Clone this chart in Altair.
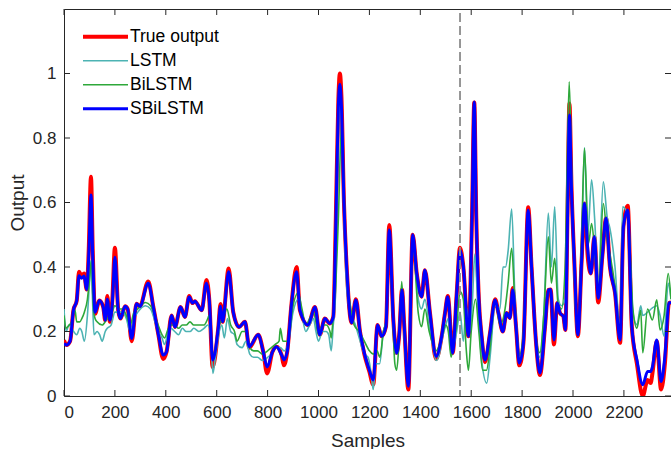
import altair as alt
import pandas as pd

# ---------------- data ----------------
true_x = [0, 10, 24, 37, 50, 59, 69, 79, 89, 97, 106, 113, 122, 139, 154, 162, 170, 180, 190, 200,
          213, 222, 240, 250, 266, 285, 298, 331, 351, 370, 390, 403, 423, 436, 458, 475, 492, 505,
          514, 541, 560, 571, 584, 606, 615, 623, 647, 665, 688, 711, 728, 763, 783, 798, 819, 835,
          855, 864, 877, 894, 914, 927, 959, 986, 1005, 1025, 1044, 1058, 1068, 1078, 1084, 1090,
          1100, 1112, 1130, 1147, 1163, 1180, 1200, 1215, 1232, 1248, 1265, 1278, 1294, 1307, 1317,
          1328, 1337, 1353, 1370, 1386, 1405, 1418, 1438, 1462, 1484, 1497, 1508, 1527, 1543, 1556,
          1569, 1589, 1603, 1612, 1620, 1630, 1641, 1654, 1674, 1694, 1707, 1724, 1739, 1752, 1763,
          1776, 1789, 1805, 1824, 1837, 1855, 1870, 1890, 1903, 1912, 1925, 1938, 1949, 1962, 1970,
          1978, 1986, 1994, 2005, 2019, 2034, 2045, 2058, 2070, 2084, 2099, 2115, 2130, 2145, 2165,
          2185, 2198, 2215, 2231, 2251, 2274, 2293, 2305, 2312, 2329, 2346, 2361, 2377, 2385]
true_y = [0.173, 0.158, 0.17, 0.266, 0.296, 0.385, 0.373, 0.38, 0.33, 0.45, 0.68, 0.45, 0.255,
          0.296, 0.276, 0.235, 0.31, 0.23, 0.3, 0.46, 0.266, 0.24, 0.278, 0.27, 0.17, 0.286, 0.278,
          0.355, 0.276, 0.194, 0.115, 0.137, 0.25, 0.214, 0.276, 0.245, 0.31, 0.288, 0.294, 0.266,
          0.36, 0.296, 0.09, 0.21, 0.285, 0.23, 0.395, 0.26, 0.214, 0.23, 0.15, 0.19, 0.137, 0.07,
          0.137, 0.153, 0.127, 0.095, 0.137, 0.286, 0.4, 0.266, 0.22, 0.276, 0.19, 0.24, 0.225,
          0.245, 0.55, 0.92, 1.0, 0.93, 0.6, 0.38, 0.227, 0.3, 0.2, 0.13, 0.075, 0.035, 0.22, 0.185,
          0.215, 0.53, 0.236, 0.133, 0.19, 0.33, 0.215, 0.02, 0.5, 0.38, 0.308, 0.39, 0.257, 0.115,
          0.185, 0.257, 0.31, 0.133, 0.318, 0.46, 0.401, 0.185, 0.55, 0.91, 0.55, 0.3, 0.185, 0.105,
          0.196, 0.3, 0.257, 0.2, 0.257, 0.242, 0.335, 0.215, 0.095, 0.163, 0.585, 0.401, 0.163,
          0.065, 0.215, 0.329, 0.33, 0.16, 0.288, 0.257, 0.247, 0.205, 0.55, 0.907, 0.65, 0.42,
          0.185, 0.422, 0.597, 0.43, 0.38, 0.494, 0.29, 0.432, 0.551, 0.401, 0.32, 0.165, 0.525,
          0.59, 0.215, 0.1, 0.0, 0.05, 0.04, 0.07, 0.17, 0.02, 0.1, 0.288, 0.29]

sbilstm_y = [0.163, 0.158, 0.17, 0.266, 0.296, 0.373, 0.365, 0.372, 0.33, 0.43, 0.623, 0.43, 0.26,
             0.296, 0.276, 0.235, 0.3, 0.235, 0.29, 0.43, 0.266, 0.24, 0.278, 0.27, 0.178, 0.286,
             0.278, 0.35, 0.276, 0.194, 0.127, 0.137, 0.25, 0.214, 0.276, 0.245, 0.307, 0.288, 0.294,
             0.266, 0.35, 0.296, 0.112, 0.21, 0.278, 0.23, 0.385, 0.26, 0.214, 0.23, 0.153, 0.19,
             0.137, 0.09, 0.137, 0.153, 0.127, 0.112, 0.137, 0.286, 0.385, 0.266, 0.22, 0.276, 0.19,
             0.24, 0.225, 0.245, 0.53, 0.9, 0.967, 0.9, 0.6, 0.38, 0.227, 0.298, 0.2, 0.134, 0.08,
             0.05, 0.22, 0.185, 0.215, 0.515, 0.236, 0.133, 0.19, 0.329, 0.215, 0.03, 0.5, 0.38,
             0.308, 0.39, 0.257, 0.123, 0.185, 0.257, 0.308, 0.133, 0.318, 0.453, 0.401, 0.185,
             0.55, 0.912, 0.55, 0.3, 0.185, 0.112, 0.196, 0.298, 0.257, 0.2, 0.257, 0.242, 0.329,
             0.215, 0.102, 0.163, 0.577, 0.401, 0.163, 0.071, 0.215, 0.329, 0.33, 0.174, 0.288,
             0.257, 0.247, 0.205, 0.53, 0.871, 0.64, 0.42, 0.19, 0.422, 0.597, 0.453, 0.38, 0.494,
             0.303, 0.432, 0.551, 0.401, 0.32, 0.174, 0.525, 0.577, 0.215, 0.112, 0.035, 0.076,
             0.076, 0.09, 0.174, 0.045, 0.123, 0.288, 0.29]

lstm_x = [0, 8, 20, 30, 50, 62, 70, 80, 92, 100, 106, 112, 118, 130, 140, 150, 162, 170, 185, 200,
          215, 230, 245, 260, 275, 290, 320, 340, 370, 385, 395, 410, 420, 435, 450, 465, 480, 495,
          510, 530, 550, 565, 575, 585, 595, 610, 620, 630, 642, 655, 670, 680, 700, 715, 730, 745,
          760, 780, 800, 815, 830, 850, 865, 880, 900, 920, 935, 950, 965, 980, 990, 1000, 1015,
          1030, 1040, 1050, 1058, 1066, 1075, 1084, 1092, 1102, 1115, 1130, 1145, 1160, 1180, 1195,
          1205, 1215, 1225, 1240, 1255, 1265, 1278, 1292, 1305, 1315, 1327, 1340, 1353, 1370, 1392,
          1405, 1418, 1435, 1450, 1462, 1475, 1484, 1500, 1510, 1521, 1530, 1543, 1556, 1569, 1580,
          1595, 1605, 1614, 1625, 1640, 1661, 1674, 1694, 1713, 1725, 1735, 1745, 1759, 1772, 1791,
          1805, 1824, 1840, 1855, 1870, 1885, 1903, 1915, 1928, 1942, 1955, 1969, 1985, 2000, 2019,
          2034, 2045, 2058, 2073, 2085, 2099, 2119, 2135, 2145, 2165, 2185, 2195, 2215, 2235, 2251,
          2266, 2274, 2293, 2312, 2329, 2342, 2358, 2374, 2385]
lstm_y = [0.27, 0.2, 0.22, 0.21, 0.19, 0.21, 0.2, 0.17, 0.25, 0.35, 0.42, 0.3, 0.19, 0.2, 0.19,
          0.17, 0.2, 0.21, 0.22, 0.26, 0.26, 0.26, 0.24, 0.2, 0.24, 0.26, 0.28, 0.27, 0.2, 0.18,
          0.16, 0.2, 0.21, 0.2, 0.19, 0.21, 0.2, 0.2, 0.21, 0.2, 0.21, 0.22, 0.2, 0.07, 0.12, 0.2,
          0.22, 0.18, 0.24, 0.2, 0.19, 0.16, 0.15, 0.17, 0.13, 0.12, 0.12, 0.11, 0.12, 0.13, 0.15,
          0.15, 0.14, 0.16, 0.26, 0.3, 0.25, 0.2, 0.22, 0.24, 0.2, 0.17, 0.2, 0.2, 0.19, 0.14, 0.22,
          0.3, 0.7, 0.92, 0.8, 0.5, 0.3, 0.25, 0.22, 0.18, 0.13, 0.12, 0.08, 0.02, 0.1, 0.1, 0.2,
          0.23, 0.5, 0.25, 0.13, 0.18, 0.32, 0.15, 0.03, 0.48, 0.3, 0.27, 0.3, 0.22, 0.15, 0.11,
          0.13, 0.17, 0.22, 0.24, 0.14, 0.15, 0.2, 0.26, 0.17, 0.28, 0.2, 0.3, 0.44, 0.3, 0.12,
          0.04, 0.12, 0.28, 0.27, 0.4, 0.4, 0.45, 0.58, 0.3, 0.12, 0.18, 0.55, 0.35, 0.17, 0.12,
          0.25, 0.567, 0.4, 0.587, 0.3, 0.28, 0.3, 0.87, 0.5, 0.19, 0.45, 0.77, 0.5, 0.67, 0.55,
          0.35, 0.664, 0.55, 0.52, 0.4, 0.2, 0.587, 0.56, 0.26, 0.22, 0.28, 0.25, 0.26, 0.273,
          0.28, 0.25, 0.185, 0.35, 0.3]

bilstm_x = [0, 8, 20, 30, 43, 50, 62, 70, 80, 92, 100, 108, 115, 122, 130, 150, 170, 185, 200,
            215, 230, 245, 260, 275, 290, 320, 340, 370, 385, 395, 410, 420, 435, 450, 465, 480,
            495, 510, 530, 550, 565, 570, 578, 585, 595, 610, 625, 640, 655, 670, 680, 700, 715,
            730, 745, 760, 780, 800, 815, 830, 845, 850, 860, 880, 900, 920, 935, 950, 965, 980,
            990, 1000, 1015, 1030, 1045, 1050, 1058, 1066, 1078, 1091, 1100, 1110, 1125, 1140, 1160,
            1180, 1200, 1215, 1230, 1241, 1255, 1265, 1278, 1290, 1300, 1307, 1315, 1327, 1340,
            1353, 1370, 1392, 1405, 1418, 1435, 1450, 1462, 1484, 1500, 1510, 1521, 1532, 1543,
            1556, 1569, 1580, 1589, 1600, 1617, 1630, 1645, 1660, 1674, 1694, 1713, 1733, 1745,
            1759, 1772, 1791, 1805, 1824, 1840, 1855, 1870, 1885, 1903, 1915, 1928, 1942, 1955,
            1969, 1985, 2000, 2019, 2034, 2045, 2061, 2073, 2085, 2099, 2119, 2135, 2145, 2165,
            2185, 2195, 2215, 2235, 2251, 2266, 2274, 2293, 2312, 2329, 2342, 2358, 2374, 2385]
bilstm_y = [0.25, 0.21, 0.22, 0.23, 0.267, 0.23, 0.23, 0.24, 0.26, 0.3, 0.36, 0.42, 0.28, 0.24,
            0.23, 0.22, 0.24, 0.25, 0.28, 0.27, 0.27, 0.25, 0.22, 0.26, 0.27, 0.29, 0.28, 0.22,
            0.19, 0.18, 0.21, 0.22, 0.22, 0.21, 0.22, 0.22, 0.23, 0.22, 0.22, 0.22, 0.24, 0.25,
            0.2, 0.12, 0.15, 0.22, 0.24, 0.27, 0.22, 0.2, 0.17, 0.2, 0.2, 0.15, 0.14, 0.14, 0.13,
            0.14, 0.15, 0.16, 0.17, 0.21, 0.17, 0.17, 0.28, 0.32, 0.27, 0.22, 0.24, 0.26, 0.23,
            0.19, 0.22, 0.22, 0.2, 0.18, 0.25, 0.32, 0.55, 0.85, 0.65, 0.4, 0.28, 0.22, 0.2, 0.17,
            0.14, 0.13, 0.14, 0.12, 0.2, 0.23, 0.5, 0.28, 0.1, 0.08, 0.15, 0.355, 0.15, 0.03, 0.48,
            0.257, 0.215, 0.27, 0.2, 0.16, 0.14, 0.18, 0.22, 0.2, 0.12, 0.17, 0.22, 0.324, 0.3,
            0.15, 0.08, 0.2, 0.3, 0.2, 0.08, 0.08, 0.15, 0.3, 0.22, 0.27, 0.35, 0.458, 0.28, 0.13,
            0.2, 0.57, 0.38, 0.18, 0.134, 0.25, 0.494, 0.35, 0.427, 0.28, 0.27, 0.4, 0.974, 0.5,
            0.19, 0.5, 0.768, 0.474, 0.535, 0.45, 0.31, 0.597, 0.48, 0.44, 0.34, 0.2, 0.5, 0.57,
            0.273, 0.21, 0.266, 0.134, 0.27, 0.236, 0.298, 0.205, 0.25, 0.38, 0.3]

series_names = ["True output", "LSTM", "BiLSTM", "SBiLSTM"]
series_colors = ["#FF0000", "#4DB3B3", "#2EA83A", "#0000FF"]
series_widths = [4.0, 1.6, 1.6, 3.0]

x_ticks = [0, 200, 400, 600, 800, 1000, 1200, 1400, 1600, 1800, 2000, 2200]
y_ticks = [0, 0.2, 0.4, 0.6, 0.8, 1.0]
split_x = [1556]

# ---------------- build ----------------
W, H = 607, 387
FONT = "Liberation Sans"
TXT = "#262626"

frames = []
for name, xs, ys in [("True output", true_x, true_y), ("LSTM", lstm_x, lstm_y),
                     ("BiLSTM", bilstm_x, bilstm_y), ("SBiLSTM", true_x, sbilstm_y)]:
    frames.append(pd.DataFrame({"x": xs, "y": ys, "series": name}))
df = pd.concat(frames, ignore_index=True)

xscale = alt.Scale(domain=[0, 2385], nice=False, zero=False)
yscale = alt.Scale(domain=[0, 1.2], nice=False)

legend = alt.Legend(title=None, orient="none", legendX=17, legendY=16,
                    symbolType="stroke", symbolSize=2025, clipHeight=23.5, rowPadding=0,
                    labelFont=FONT, labelFontSize=17.5, labelColor="#000000",
                    labelOffset=0, padding=0)

color = alt.Color("series:N", scale=alt.Scale(domain=series_names, range=series_colors),
                  legend=legend)
swidth = alt.StrokeWidth("series:N",
                         scale=alt.Scale(type="ordinal", domain=series_names, range=series_widths),
                         legend=legend)

xenc = alt.X("x:Q", scale=xscale,
             axis=alt.Axis(title="Samples", values=x_ticks, format="d", grid=False,
                           ticks=False, domain=False, labelPadding=8, titlePadding=11))
yenc = alt.Y("y:Q", scale=yscale,
             axis=alt.Axis(title="Output", values=y_ticks, format="~g", grid=False,
                           ticks=False, domain=False, labelPadding=8, titlePadding=5))

layers = []
for name in series_names:
    layers.append(
        alt.Chart(df[df.series == name]).mark_line(interpolate="monotone", clip=True)
        .encode(x=xenc, y=yenc, color=color, strokeWidth=swidth)
    )

xt = pd.DataFrame({"x": x_ticks})
yt = pd.DataFrame({"y": y_ticks})
tick_style = dict(color=TXT, strokeWidth=1)
bottom_t = alt.Chart(xt).mark_rule(**tick_style).encode(
    x=alt.X("x:Q", scale=xscale), y=alt.value(H), y2=alt.value(H - 6))
top_t = alt.Chart(xt).mark_rule(**tick_style).encode(
    x=alt.X("x:Q", scale=xscale), y=alt.value(0), y2=alt.value(6))
left_t = alt.Chart(yt).mark_rule(**tick_style).encode(
    y=alt.Y("y:Q", scale=yscale), x=alt.value(0), x2=alt.value(6))
right_t = alt.Chart(yt).mark_rule(**tick_style).encode(
    y=alt.Y("y:Q", scale=yscale), x=alt.value(W), x2=alt.value(W - 6))

split = alt.Chart(pd.DataFrame({"x": split_x})).mark_rule(
    color="#8C8C8C", strokeDash=[9, 4], strokeWidth=1.8).encode(
    x=alt.X("x:Q", scale=xscale), y=alt.value(4), y2=alt.value(H))

chart = alt.layer(*layers, split, bottom_t, top_t, left_t, right_t).properties(
    width=W, height=H,
    autosize=alt.AutoSizeParams(type="none"),
    padding={"left": 64, "top": 9, "right": 0, "bottom": 53},
    background="white",
).configure_view(stroke=TXT, strokeWidth=1).configure_axis(
    labelFont=FONT, labelFontSize=17, labelColor=TXT,
    titleFont=FONT, titleFontSize=19, titleFontWeight="normal", titleColor=TXT,
)

chart.save("out.html", embed_options={"renderer": "svg", "actions": False})
